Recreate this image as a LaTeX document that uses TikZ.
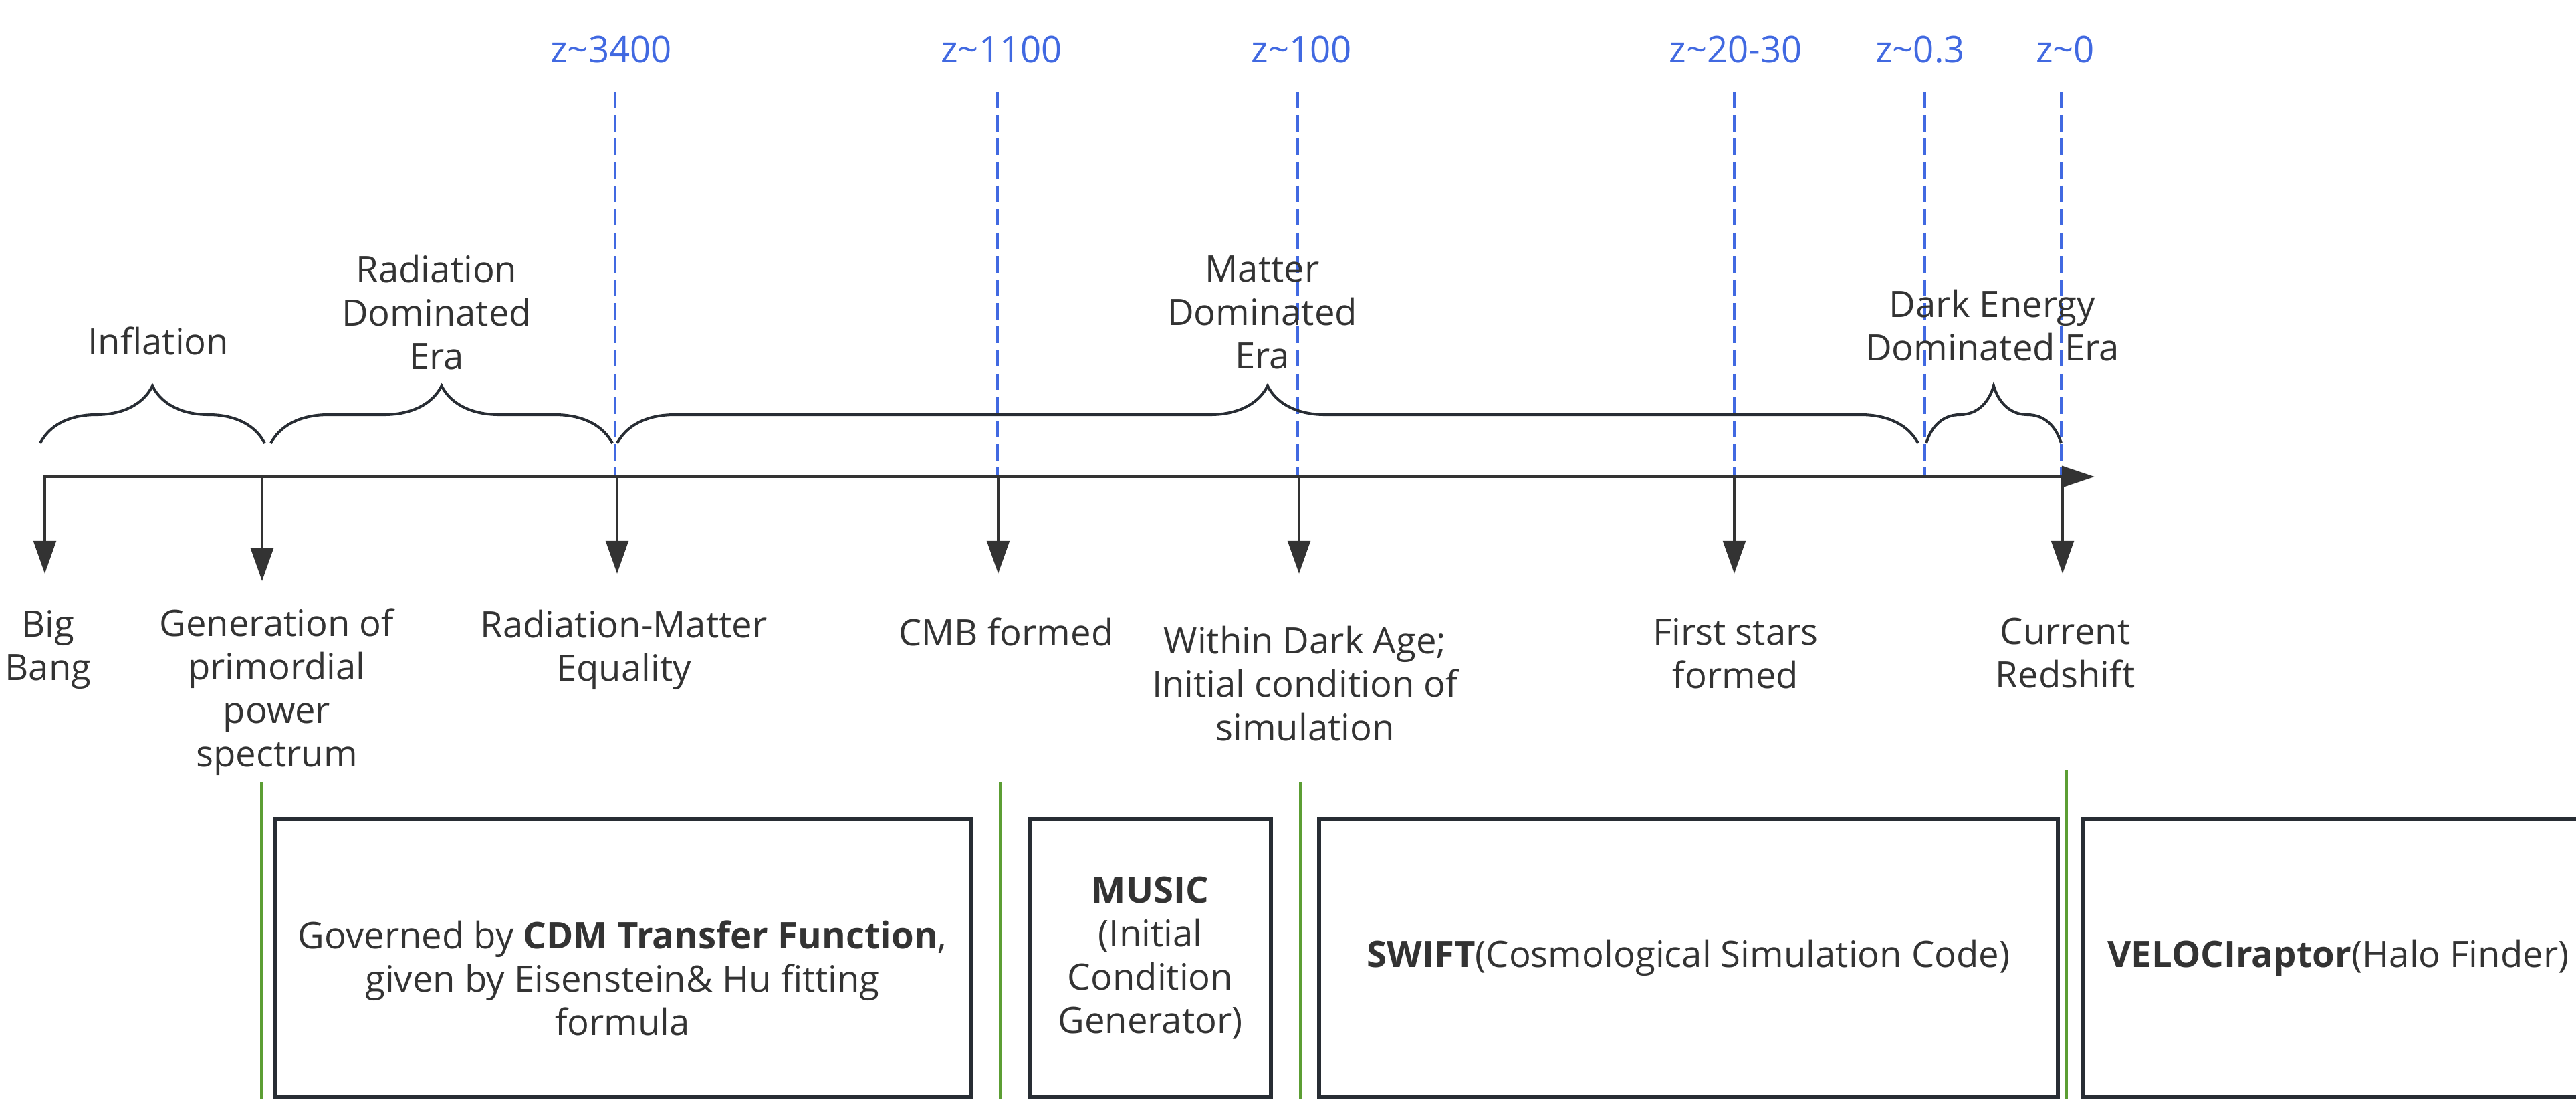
\documentclass[tikz,border=0pt]{standalone}
\usepackage{fontspec}
\setmainfont{Open Sans}
\usepackage{xcolor}
\usepackage{tikz}
\usetikzlibrary{arrows.meta,decorations.pathreplacing}

\definecolor{ink}{RGB}{51,51,51}
\definecolor{edge}{RGB}{40,45,52}
\definecolor{zblue}{RGB}{65,105,225}
\definecolor{grn}{RGB}{92,158,52}
\newcommand{\lblfont}{\fontsize{15.5pt}{18.5pt}\selectfont}

\tikzset{
  txt/.style={align=center, text=ink, font=\lblfont, inner sep=0pt},
  zlab/.style={text=zblue, font=\lblfont, inner sep=0pt},
  era/.style={draw=edge, line width=1.15pt, decorate, decoration={brace, amplitude=0.86cm}},
  zline/.style={draw=zblue, line width=1.05pt, dash pattern=on 7pt off 3pt},
  axis/.style={draw=ink, line width=1.4pt, -{Triangle[length=14pt,width=9pt]}},
  drop/.style={draw=ink, line width=1.3pt, -{Triangle[length=14pt,width=9.5pt]}},
  stage/.style={draw=grn, line width=1.1pt},
  box/.style={draw=edge, line width=1.5pt, align=center, text=ink, font=\lblfont,
              inner sep=0pt, minimum height=4.15cm}
}

\begin{document}
\begin{tikzpicture}
        \def\ax{-7.13}; %axis height%
        \def\tip{-8.58}; %end of the event arrows%
        \def\brc{-6.63}; %foot of the braces%
        \def\ztop{-1.37}; %top of the redshift lines%
        \useasboundingbox (0,0) rectangle (38.53,-16.44);
        \clip (0,0) rectangle (38.53,-16.44);

  % redshift marks %
  \node[zlab] (z3400) at (9.14,-0.74) {z\textasciitilde 3400};
  \node[zlab] (z1100) at (14.98,-0.74) {z\textasciitilde 1100};
  \node[zlab] (z100) at (19.47,-0.74) {z\textasciitilde 100};
  \node[zlab] (z20) at (25.96,-0.74) {z\textasciitilde 20-30};
  \node[zlab] (z03) at (28.72,-0.74) {z\textasciitilde 0.3};
  \node[zlab] (z0) at (30.89,-0.74) {z\textasciitilde 0};

  \coordinate (za) at (9.20,\ztop);  \coordinate (za') at (9.20,\ax);
  \coordinate (zb) at (14.92,\ztop); \coordinate (zb') at (14.92,\ax);
  \coordinate (zc) at (19.41,\ztop); \coordinate (zc') at (19.41,\ax);
  \coordinate (zd) at (25.94,\ztop); \coordinate (zd') at (25.94,\ax);
  \coordinate (ze) at (28.79,\ztop); \coordinate (ze') at (28.79,\ax);
  \coordinate (zf) at (30.83,\ztop); \coordinate (zf') at (30.83,\ax);
  \draw[zline] (za) -- (za');
  \draw[zline] (zb) -- (zb');
  \draw[zline] (zc) -- (zc');
  \draw[zline] (zd) -- (zd');
  \draw[zline] (ze) -- (ze');
  \draw[zline] (zf) -- (zf');

  % eras %
  \draw[era] (0.60,\brc) -- (3.96,\brc);
  \draw[era] (4.05,\brc) -- (9.16,\brc);
  \draw[era] (9.23,\brc) -- (28.69,\brc);
  \draw[era] (28.81,\brc) -- (30.83,\brc);
  \node[txt] (inflation) at (2.37,-5.10) {Inflation};
  \node[txt] (radera) at (6.53,-4.67) {Radiation\\Dominated\\Era};
  \node[txt] (matera) at (18.88,-4.67) {Matter\\Dominated\\Era};
  \node[txt] (deera) at (29.80,-4.87) {Dark Energy\\Dominated Era};

  % time axis %
  \coordinate (bang) at (0.65,\ax);
  \coordinate (today) at (31.33,\ax);
  \draw[axis] (bang) -- (today);

  % events %
  \coordinate (e1) at (0.67,\ax);  \coordinate (e1') at (0.67,\tip);
  \coordinate (e2) at (3.92,\ax);  \coordinate (e2') at (3.92,-8.69);
  \coordinate (e3) at (9.23,\ax);  \coordinate (e3') at (9.23,\tip);
  \coordinate (e4) at (14.93,\ax); \coordinate (e4') at (14.93,\tip);
  \coordinate (e5) at (19.43,\ax); \coordinate (e5') at (19.43,\tip);
  \coordinate (e6) at (25.94,\ax); \coordinate (e6') at (25.94,\tip);
  \coordinate (e7) at (30.85,\ax); \coordinate (e7') at (30.85,\tip);
  \draw[drop] (e1) -- (e1');
  \draw[drop] (e2) -- (e2');
  \draw[drop] (e3) -- (e3');
  \draw[drop] (e4) -- (e4');
  \draw[drop] (e5) -- (e5');
  \draw[drop] (e6) -- (e6');
  \draw[drop] (e7) -- (e7');

  \node[txt] (bigbang) at (0.72,-9.72) {Big\\Bang};
  \node[txt] (genspec) at (4.14,-10.35) {Generation of\\primordial\\power\\spectrum};
  \node[txt] (radmat) at (9.33,-9.72) {Radiation-Matter\\Equality};
  \node[txt] (cmb) at (15.05,-9.45) {CMB formed};
  \node[txt] (darkage) at (19.52,-10.22) {Within Dark Age;\\Initial condition of\\simulation};
  \node[txt] (firststars) at (25.96,-9.77) {First stars\\formed};
  \node[txt] (current) at (30.89,-9.77) {Current\\Redshift};

  % stage separators %
  \coordinate (g1) at (3.91,-11.70);  \coordinate (g1') at (3.91,-16.44);
  \coordinate (g2) at (14.96,-11.70); \coordinate (g2') at (14.96,-16.44);
  \coordinate (g3) at (19.45,-11.70); \coordinate (g3') at (19.45,-16.44);
  \coordinate (g4) at (30.91,-11.52); \coordinate (g4') at (30.91,-16.44);
  \draw[stage] (g1) -- (g1');
  \draw[stage] (g2) -- (g2');
  \draw[stage] (g3) -- (g3');
  \draw[stage] (g4) -- (g4');

  % codes %
  \node[box, minimum width=10.41cm] (transfer) at (9.325,-14.325) {};
  \node[txt] (transfertxt) at (9.31,-14.63) {Governed by \textbf{CDM Transfer Function},\\given by Eisenstein\& Hu fitting\\formula};
  \node[box, minimum width=3.61cm] (music) at (17.205,-14.325) {\textbf{MUSIC}\\(Initial\\Condition\\Generator)};
  \node[box, minimum width=11.05cm] (swift) at (25.255,-14.325) {\textbf{SWIFT}(Cosmological Simulation Code)};
  \node[box, minimum width=7.65cm] (velo) at (34.975,-14.325) {\textbf{VELOCIraptor}(Halo Finder)};
\end{tikzpicture}
\end{document}
